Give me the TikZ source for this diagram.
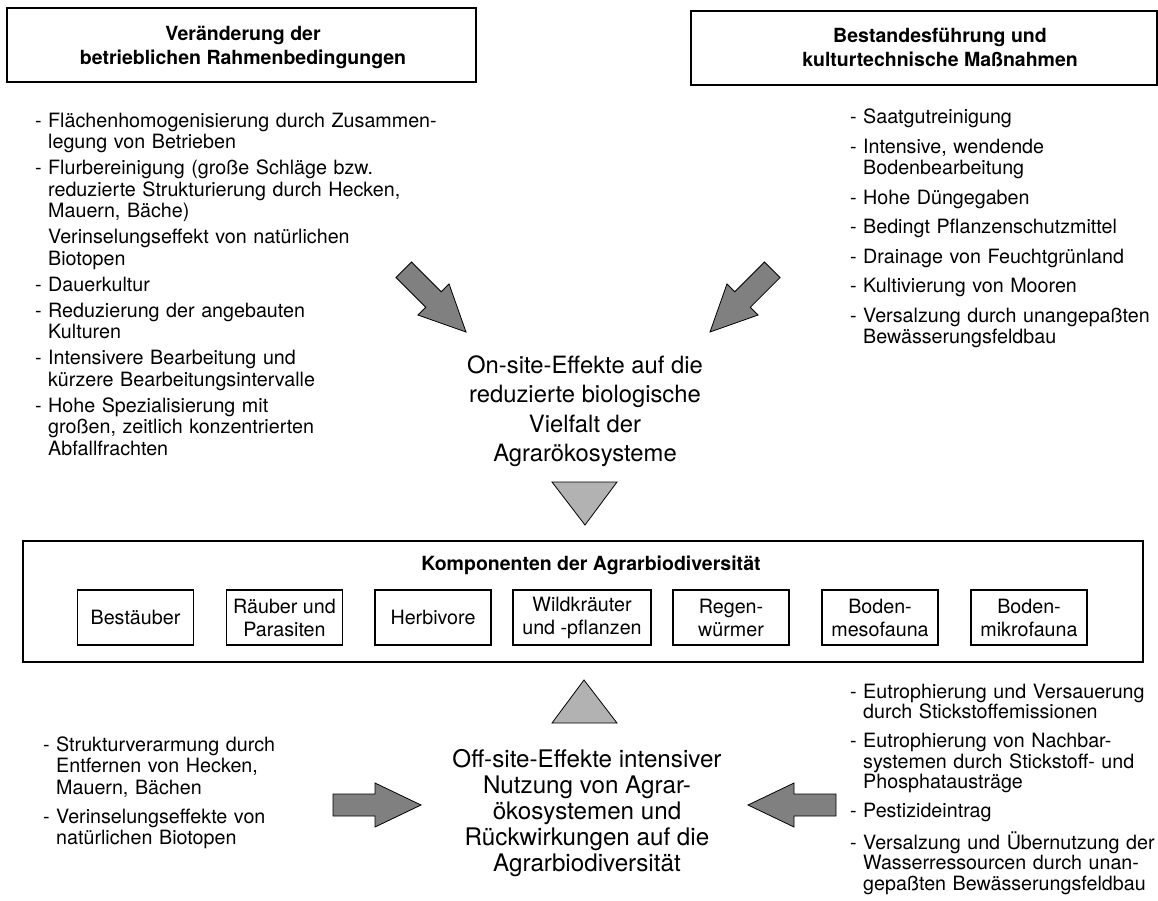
\documentclass[tikz,border=0pt]{standalone}
\usepackage{fontspec}
\setmainfont{TeX Gyre Heros}
\pgfdeclarelayer{edgelayer}
\pgfdeclarelayer{nodelayer}
\pgfsetlayers{edgelayer,nodelayer,main}
\definecolor{arrowgray}{gray}{0.5}
\definecolor{wedgegray}{gray}{0.7}
\tikzstyle{none}=[inner sep=0pt]
\tikzstyle{frame}=[draw=black, line width=2.6pt, inner sep=0pt]
\tikzstyle{part}=[draw=black, line width=1.1pt, inner sep=0pt, minimum width=116pt, minimum height=55pt, align=center, font=\fontsize{19.7}{23}\selectfont]
\tikzstyle{title}=[inner sep=0pt, align=center, font=\bfseries\fontsize{19.5}{24}\selectfont]
\tikzstyle{effect}=[inner sep=0pt, align=center, font=\fontsize{23.8}{29.4}\selectfont]
\tikzstyle{list}=[inner sep=0pt, anchor=north west, align=left, font=\fontsize{19.7}{21.5}\selectfont]
\tikzstyle{wedge}=[draw=black, line width=0.8pt, fill=wedgegray, line join=miter]
\tikzset{blockarrow/.pic={\draw [draw=black, line width=0.8pt, fill=arrowgray] (0,0) -- (-46,-22) -- (-46,-11) -- (-88,-11) -- (-88,11) -- (-46,11) -- (-46,22) -- cycle;}}
\newcommand{\li}[1]{\par\hangindent=13pt\hangafter=1\noindent\makebox[13pt][l]{-}#1}
\newcommand{\lc}[1]{\par\hangindent=13pt\hangafter=0\noindent #1}

\begin{document}
\begin{tikzpicture}[x=1pt, y=-1pt]
	\useasboundingbox (0,0) rectangle (1158,900);
	\begin{pgfonlayer}{nodelayer}
		% top boxes
		\node [style=frame, minimum width=469pt, minimum height=74pt] (0) at (241.5,45) {};
		\node [style=title] (1) at (243,47) {Veränderung der\\betrieblichen Rahmenbedingungen};
		\node [style=frame, minimum width=466pt, minimum height=74pt] (2) at (924,48) {};
		\node [style=title] (3) at (940,48) {Bestandesführung und\\kulturtechnische Maßnahmen};
		% lists
		\node [style=list, text width=430pt] (4) at (35,101) {\setlength{\parskip}{4.5pt}%
			\li{Flächenhomogenisierung durch Zusammen-\newline legung von Betrieben}
			\li{Flurbereinigung (große Schläge bzw.\newline reduzierte Strukturierung durch Hecken,\newline Mauern, Bäche)}
			\lc{Verinselungseffekt von natürlichen\newline Biotopen}
			\li{Dauerkultur}
			\li{Reduzierung der angebauten\newline Kulturen}
			\li{Intensivere Bearbeitung und\newline kürzere Bearbeitungsintervalle}
			\li{Hohe Spezialisierung mit\newline großen, zeitlich konzentrierten\newline Abfallfrachten}\par};
		\node [style=list, text width=300pt] (5) at (850,94) {\setlength{\parskip}{8pt}%
			\li{Saatgutreinigung}
			\li{Intensive, wendende\newline Bodenbearbeitung}
			\li{Hohe Düngegaben}
			\li{Bedingt Pflanzenschutzmittel}
			\li{Drainage von Feuchtgrünland}
			\li{Kultivierung von Mooren}
			\li{Versalzung durch unangepaßten\newline Bewässerungsfeldbau}\par};
		\node [style=effect] (6) at (585,411) {On-site-Effekte auf die\\reduzierte biologische\\Vielfalt der\\Agrarökosysteme};
		% components
		\node [style=frame, minimum width=1120pt, minimum height=121pt] (7) at (583,601.5) {};
		\node [style=title] (8) at (591,565) {Komponenten der Agrarbiodiversität};
		\node [style=part] (9) at (135.5,617.5) {Bestäuber};
		\node [style=part] (10) at (284.5,617.5) {Räuber und\\Parasiten};
		\node [style=part] (11) at (433,617.5) {Herbivore};
		\node [style=part, minimum width=138pt] (12) at (582,617.5) {Wildkräuter\\und -pflanzen};
		\node [style=part] (13) at (731,617.5) {Regen-\\würmer};
		\node [style=part] (14) at (880,617.5) {Boden-\\mesofauna};
		\node [style=part] (15) at (1029,617.5) {Boden-\\mikrofauna};
		% off-site
		\node [style=list, text width=300pt] (16) at (43,722) {\setlength{\parskip}{7.5pt}%
			\li{Strukturverarmung durch\newline Entfernen von Hecken,\newline Mauern, Bächen}
			\li{Verinselungseffekte von\newline natürlichen Biotopen}\par};
		\node [style=effect, font=\fontsize{24.2}{26}\selectfont] (17) at (587,813) {Off-site-Effekte intensiver\\Nutzung von Agrar-\\ökosystemen und\\Rückwirkungen auf die\\Agrarbiodiversität};
		\node [style=list, text width=310pt, font=\fontsize{19.7}{20.5}\selectfont] (18) at (850,669) {\setlength{\parskip}{8.5pt}%
			\li{Eutrophierung und Versauerung\newline durch Stickstoffemissionen}
			\li{Eutrophierung von Nachbar-\newline systemen durch Stickstoff- und\newline Phosphatausträge}
			\li{Pestizideintrag}
			\li{Versalzung und Übernutzung der\newline Wasserressourcen durch unan-\newline gepaßten Bewässerungsfeldbau}\par};
	\end{pgfonlayer}
	\begin{pgfonlayer}{edgelayer}
		\draw [style=wedge] (552,482) -- (617,482) -- (585,525) -- cycle;
		\draw [style=wedge] (584,680) -- (617,723) -- (552,723) -- cycle;
		\pic [rotate=-45] at (466,332) {blockarrow};
		\pic [rotate=-135] at (710,332) {blockarrow};
		\pic at (421,805) {blockarrow};
		\pic [rotate=180] at (748,805) {blockarrow};
	\end{pgfonlayer}
\end{tikzpicture}
\end{document}
